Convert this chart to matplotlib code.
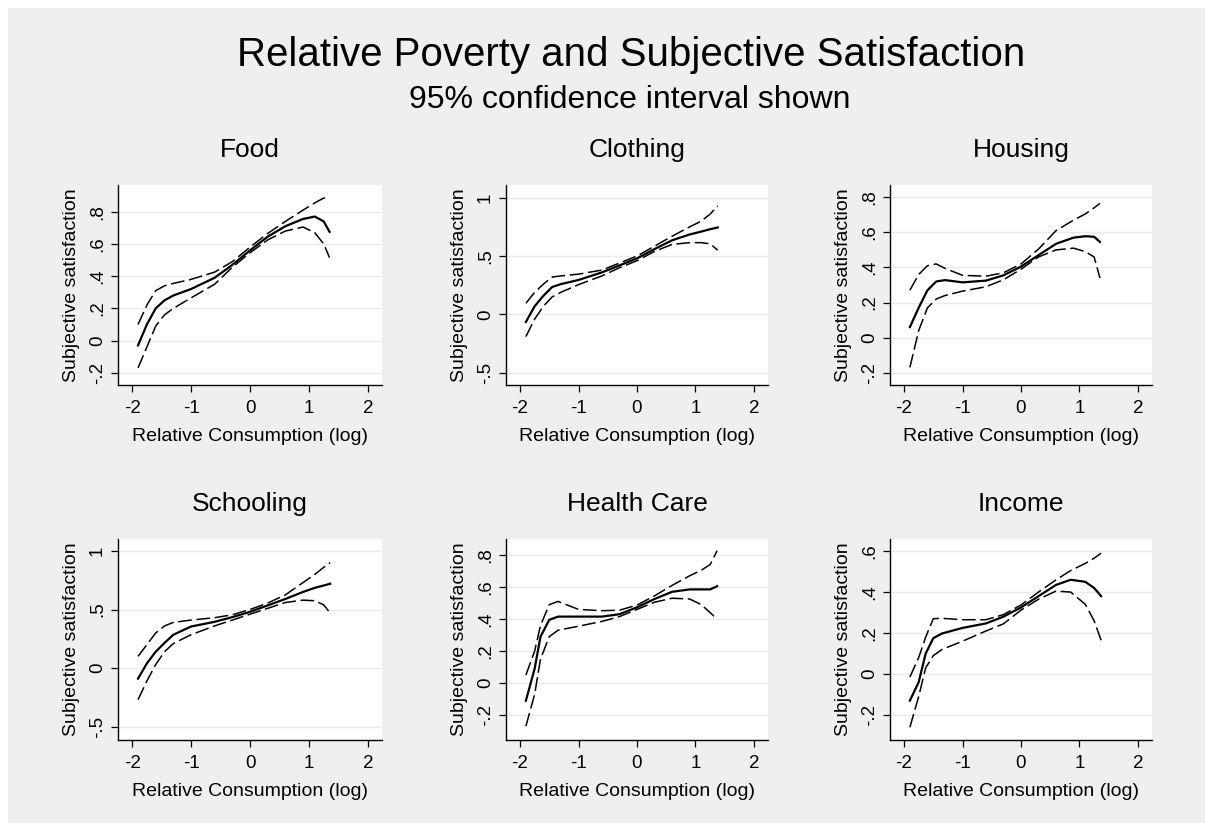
import matplotlib.pyplot as plt
from matplotlib.patches import Rectangle

plt.rcParams['font.family'] = ['Liberation Sans', 'DejaVu Sans']

W, H = 1205, 823

titles = ['Food', 'Clothing', 'Housing', 'Schooling', 'Health Care', 'Income']

# x positions of the readings, one list per panel
food_x = [-1.9, -1.75, -1.6, -1.45, -1.3, -1.0, -0.6, -0.3, 0.0, 0.3, 0.6, 0.9, 1.1, 1.25, 1.35]
food_mean = [-0.03, 0.10, 0.20, 0.25, 0.28, 0.32, 0.39, 0.47, 0.56, 0.645, 0.71, 0.755, 0.77, 0.74, 0.675]
food_upper = [0.10, 0.22, 0.31, 0.34, 0.355, 0.38, 0.425, 0.49, 0.58, 0.665, 0.74, 0.81, 0.855, 0.885, 0.878]
food_lower = [-0.17, -0.04, 0.09, 0.16, 0.20, 0.265, 0.35, 0.455, 0.545, 0.625, 0.68, 0.705, 0.67, 0.60, 0.515]

cloth_x = [-1.9, -1.75, -1.6, -1.45, -1.3, -1.0, -0.6, -0.3, 0.0, 0.3, 0.6, 0.9, 1.1, 1.25, 1.38]
cloth_mean = [-0.065, 0.07, 0.16, 0.235, 0.26, 0.295, 0.36, 0.42, 0.48, 0.56, 0.635, 0.685, 0.71, 0.73, 0.745]
cloth_upper = [0.095, 0.19, 0.26, 0.32, 0.33, 0.345, 0.38, 0.44, 0.50, 0.585, 0.67, 0.75, 0.80, 0.86, 0.93]
cloth_lower = [-0.19, -0.04, 0.07, 0.15, 0.19, 0.255, 0.33, 0.40, 0.46, 0.54, 0.60, 0.615, 0.615, 0.605, 0.55]

house_x = [-1.9, -1.75, -1.6, -1.45, -1.3, -1.0, -0.6, -0.3, 0.0, 0.3, 0.6, 0.9, 1.1, 1.25, 1.35]
house_mean = [0.06, 0.17, 0.27, 0.32, 0.328, 0.315, 0.325, 0.355, 0.405, 0.47, 0.535, 0.57, 0.578, 0.575, 0.545]
house_upper = [0.27, 0.36, 0.41, 0.42, 0.395, 0.355, 0.35, 0.37, 0.42, 0.505, 0.61, 0.67, 0.705, 0.74, 0.765]
house_lower = [-0.17, 0.04, 0.17, 0.22, 0.24, 0.265, 0.29, 0.33, 0.39, 0.46, 0.50, 0.51, 0.49, 0.46, 0.34]

school_x = [-1.9, -1.75, -1.6, -1.45, -1.3, -1.0, -0.6, -0.3, 0.0, 0.3, 0.6, 0.9, 1.1, 1.25, 1.36]
school_mean = [-0.09, 0.04, 0.14, 0.215, 0.285, 0.355, 0.395, 0.435, 0.48, 0.535, 0.59, 0.65, 0.685, 0.705, 0.72]
school_upper = [0.10, 0.20, 0.30, 0.36, 0.39, 0.41, 0.43, 0.455, 0.50, 0.555, 0.625, 0.73, 0.80, 0.86, 0.90]
school_lower = [-0.27, -0.11, 0.03, 0.14, 0.21, 0.285, 0.36, 0.41, 0.46, 0.51, 0.56, 0.58, 0.575, 0.54, 0.47]

health_x = [-1.9, -1.75, -1.65, -1.5, -1.35, -1.0, -0.6, -0.3, 0.0, 0.3, 0.6, 0.9, 1.1, 1.25, 1.37]
health_mean = [-0.11, 0.09, 0.29, 0.395, 0.415, 0.415, 0.415, 0.43, 0.473, 0.525, 0.57, 0.585, 0.585, 0.585, 0.605]
health_upper = [0.05, 0.20, 0.36, 0.49, 0.51, 0.46, 0.452, 0.455, 0.487, 0.545, 0.61, 0.67, 0.705, 0.74, 0.827]
health_lower = [-0.27, -0.07, 0.15, 0.29, 0.33, 0.355, 0.385, 0.415, 0.46, 0.505, 0.53, 0.525, 0.49, 0.44, 0.40]

income_x = [-1.9, -1.75, -1.63, -1.5, -1.35, -1.0, -0.6, -0.3, 0.0, 0.3, 0.6, 0.85, 1.1, 1.25, 1.37]
income_mean = [-0.13, -0.04, 0.10, 0.175, 0.198, 0.225, 0.247, 0.28, 0.325, 0.38, 0.435, 0.46, 0.45, 0.42, 0.38]
income_upper = [-0.015, 0.08, 0.18, 0.27, 0.272, 0.265, 0.265, 0.29, 0.337, 0.40, 0.46, 0.505, 0.54, 0.565, 0.59]
income_lower = [-0.26, -0.11, 0.03, 0.09, 0.12, 0.16, 0.21, 0.245, 0.312, 0.365, 0.405, 0.40, 0.34, 0.26, 0.165]

xs = [food_x, cloth_x, house_x, school_x, health_x, income_x]
means = [food_mean, cloth_mean, house_mean, school_mean, health_mean, income_mean]
uppers = [food_upper, cloth_upper, house_upper, school_upper, health_upper, income_upper]
lowers = [food_lower, cloth_lower, house_lower, school_lower, health_lower, income_lower]

yticks = [
    [-0.2, 0, 0.2, 0.4, 0.6, 0.8],
    [-0.5, 0, 0.5, 1],
    [-0.2, 0, 0.2, 0.4, 0.6, 0.8],
    [-0.5, 0, 0.5, 1],
    [-0.2, 0, 0.2, 0.4, 0.6, 0.8],
    [-0.2, 0, 0.2, 0.4, 0.6],
]
ytick_labels = [
    ['-.2', '0', '.2', '.4', '.6', '.8'],
    ['-.5', '0', '.5', '1'],
    ['-.2', '0', '.2', '.4', '.6', '.8'],
    ['-.5', '0', '.5', '1'],
    ['-.2', '0', '.2', '.4', '.6', '.8'],
    ['-.2', '0', '.2', '.4', '.6'],
]
ylims = [(-0.276, 0.966), (-0.605, 1.109), (-0.27, 0.87),
         (-0.614, 1.102), (-0.356, 0.9), (-0.322, 0.659)]
xticks = [-2, -1, 0, 1, 2]

# panel boxes in pixels: left, right, top, bottom
cols = [(118, 382), (506, 768), (890, 1152)]
rows = [(185, 385), (539, 740)]

fig = plt.figure(figsize=(W / 100, H / 100), dpi=100, facecolor='white')
fig.patches.append(Rectangle((8 / W, 0), 1, 1 - 8 / H, transform=fig.transFigure,
                             facecolor='#efefef', edgecolor='none', zorder=-10))

fig.text(631 / W, 1 - 66 / H, 'Relative Poverty and Subjective Satisfaction',
         ha='center', va='baseline', fontsize=29)
fig.text(630 / W, 1 - 108 / H, '95% confidence interval shown',
         ha='center', va='baseline', fontsize=23)

dash = (0, (9, 3))

for i in range(6):
    l, r = cols[i % 3]
    t, b = rows[i // 3]
    ax = fig.add_axes([l / W, 1 - b / H, (r - l) / W, (b - t) / H])
    ax.set_facecolor('white')
    ax.plot(xs[i], uppers[i], color='black', lw=1.1, ls=dash)
    ax.plot(xs[i], lowers[i], color='black', lw=1.1, ls=dash)
    ax.plot(xs[i], means[i], color='black', lw=1.6)
    ax.set_xlim(-2.24, 2.24)
    ax.set_ylim(*ylims[i])
    ax.set_xticks(xticks)
    ax.set_xticklabels([str(v) for v in xticks])
    ax.set_yticks(yticks[i])
    ax.set_yticklabels(ytick_labels[i], rotation=90, va='center')
    ax.yaxis.grid(True, color='#eaeaea', lw=1)
    ax.set_axisbelow(True)
    for s in ['top', 'right']:
        ax.spines[s].set_visible(False)
    for s in ['left', 'bottom']:
        ax.spines[s].set_linewidth(1.0)
    ax.tick_params(length=4.8, width=0.9, labelsize=13.5, pad=6)
    ax.tick_params(axis='y', pad=4)
    ax.set_xlabel('Relative Consumption (log)', fontsize=14, labelpad=8)
    ax.set_ylabel('Subjective satisfaction', fontsize=14, labelpad=6)
    fig.text((l + r) / 2 / W, 1 - (t - 28) / H, titles[i],
             ha='center', va='baseline', fontsize=19)

fig.savefig('out.png', dpi=100, facecolor=fig.get_facecolor())
